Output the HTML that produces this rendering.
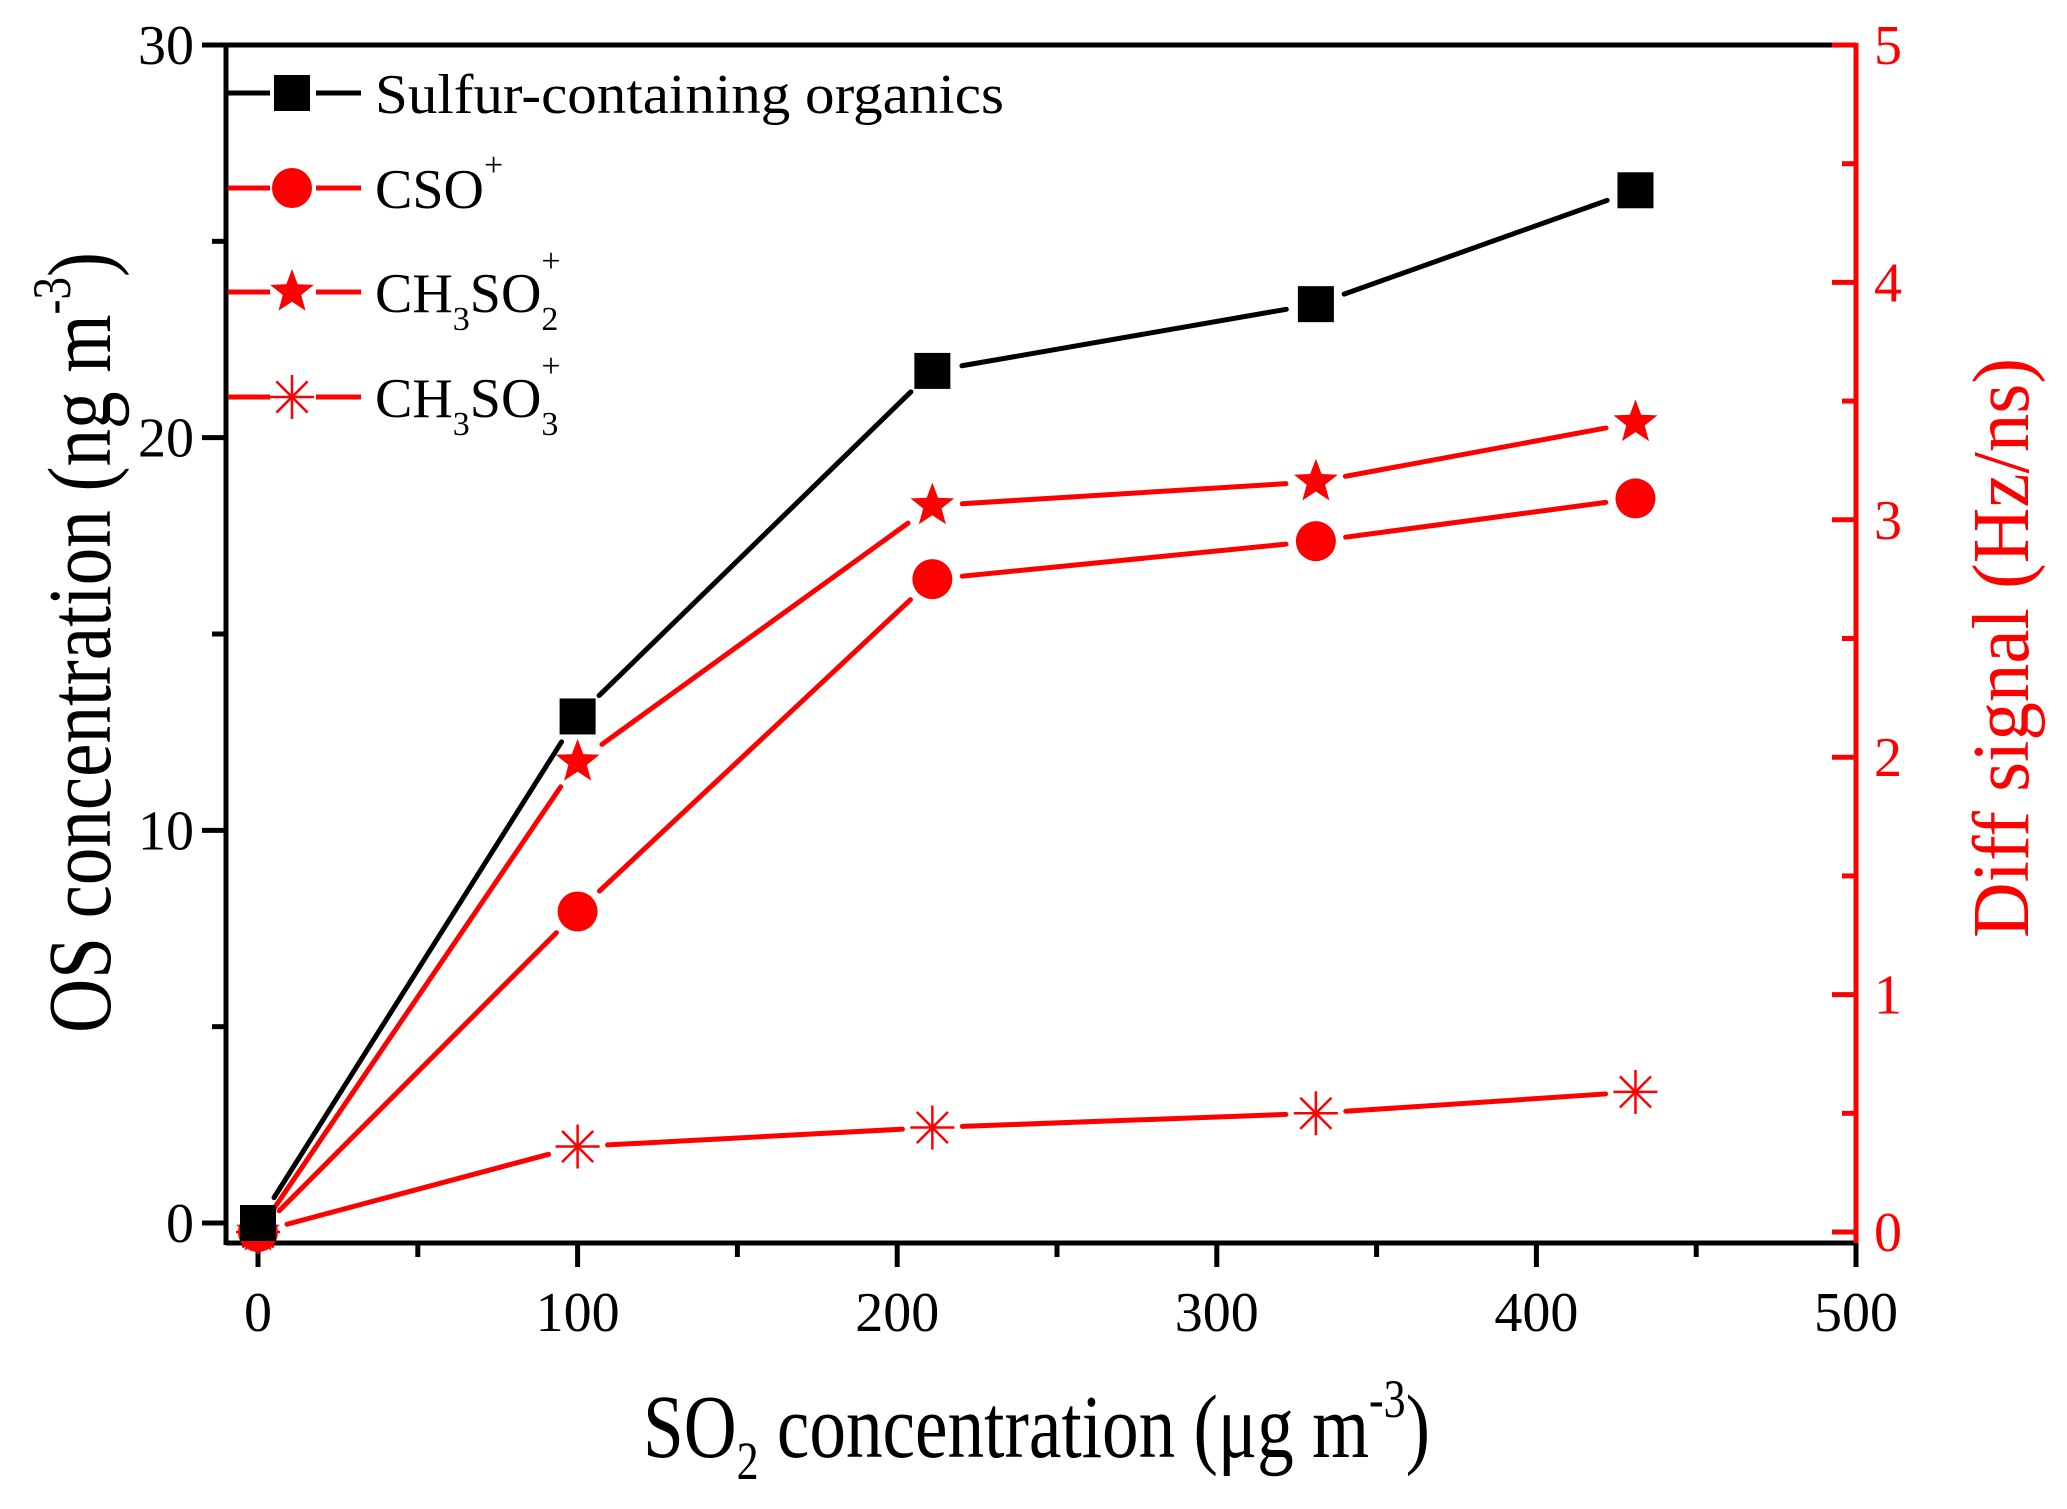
<!DOCTYPE html>
<html><head><meta charset="utf-8"><style>
html,body{margin:0;padding:0;background:#fff;}
svg{display:block;font-family:"Liberation Serif",serif;}
</style></head><body>
<svg id="chart" width="2067" height="1509" viewBox="0 0 2067 1509" xmlns="http://www.w3.org/2000/svg">
<g id="axes"></g>
<g id="series"></g>
<g id="legend">
  <text x="375" y="113" font-size="56" textLength="629" lengthAdjust="spacingAndGlyphs">Sulfur-containing organics</text>
  <text x="375" y="208" font-size="56">CSO<tspan font-size="34" dy="-32">+</tspan></text>
  <text x="375" y="312" font-size="56">CH<tspan font-size="34" dy="18">3</tspan><tspan dy="-18">SO</tspan><tspan font-size="34" dy="18">2</tspan><tspan font-size="34" dx="-17" dy="-58">+</tspan></text>
  <text x="375" y="417" font-size="56">CH<tspan font-size="34" dy="18">3</tspan><tspan dy="-18">SO</tspan><tspan font-size="34" dy="18">3</tspan><tspan font-size="34" dx="-17" dy="-58">+</tspan></text>
</g>
<text x="643" y="1457" font-size="90" textLength="787" lengthAdjust="spacingAndGlyphs">SO<tspan font-size="54" dy="22">2</tspan><tspan dy="-22"> concentration (μg m</tspan><tspan font-size="54" dy="-40">-3</tspan><tspan dy="40">)</tspan></text>
<text transform="translate(110,1033) rotate(-90)" font-size="90" textLength="781" lengthAdjust="spacingAndGlyphs">OS concentration (ng m<tspan font-size="54" dy="-40">-3</tspan><tspan dy="40">)</tspan></text>
<text transform="translate(2028,938) rotate(-90)" font-size="80" fill="#ff0000" textLength="580" lengthAdjust="spacingAndGlyphs">Diff signal (Hz/ns)</text>
</svg>
<script>
const xValues = [0, 100, 211, 331, 431];
const sulfurValues = [0, 12.9, 21.7, 23.4, 26.3];
const csoValues = [0, 1.35, 2.75, 2.91, 3.09];
const ch3so2Values = [0, 1.98, 3.06, 3.16, 3.41];
const ch3so3Values = [0, 0.36, 0.44, 0.50, 0.59];
const xTicks = [0, 100, 200, 300, 400, 500];
const yLeftTicks = [0, 10, 20, 30];
const yRightTicks = [0, 1, 2, 3, 4, 5];

const NS = 'http://www.w3.org/2000/svg';
const X0 = 258, X500 = 1856;
const xs = v => X0 + (X500 - X0) * v / 500;
const yl = v => 1223 - (1223 - 45) * v / 30;
const yr = v => 1232 - (1232 - 45) * v / 5;
function mk(tag, attrs, parent) {
  const e = document.createElementNS(NS, tag);
  for (const k in attrs) e.setAttribute(k, attrs[k]);
  parent.appendChild(e);
  return e;
}
const axes = document.getElementById('axes');
const L = 226, R = 1856, T = 45, B = 1243;
let e;
e = mk('line', {x1: L, y1: B, x2: R, y2: B, stroke: '#000', 'stroke-width': 5}, axes);
 
e = mk('line', {x1: L, y1: T, x2: R, y2: T, stroke: '#000', 'stroke-width': 5}, axes);
 
e = mk('line', {x1: L, y1: T - 2, x2: L, y2: B + 2, stroke: '#000', 'stroke-width': 5}, axes);
 
e = mk('line', {x1: R, y1: T - 2, x2: R, y2: B, stroke: '#ff0000', 'stroke-width': 5}, axes);
 

xTicks.forEach((v, i) => {
  const x = xs(v);
  let t = mk('line', {x1: x, y1: B, x2: x, y2: B + 24, stroke: '#000', 'stroke-width': 5}, axes);
   
  let lb = mk('text', {x: x, y: B + 88, 'font-size': 56, 'text-anchor': 'middle'}, axes);
  lb.textContent = v;
   
  if (i < xTicks.length - 1) {
    const xm = xs(v + 50);
    let m = mk('line', {x1: xm, y1: B, x2: xm, y2: B + 14, stroke: '#000', 'stroke-width': 5}, axes);
     
  }
});
yLeftTicks.forEach((v, i) => {
  const y = yl(v);
  let t = mk('line', {x1: L - 24, y1: y, x2: L, y2: y, stroke: '#000', 'stroke-width': 5}, axes);
   
  let lb = mk('text', {x: L - 32, y: y + 19, 'font-size': 56, 'text-anchor': 'end'}, axes);
  lb.textContent = v;
   
  if (i < yLeftTicks.length - 1) {
    const ym = yl(v + 5);
    let m = mk('line', {x1: L - 14, y1: ym, x2: L, y2: ym, stroke: '#000', 'stroke-width': 5}, axes);
     
  }
});
yRightTicks.forEach((v, i) => {
  const y = yr(v);
  let t = mk('line', {x1: R - 24, y1: y, x2: R, y2: y, stroke: '#ff0000', 'stroke-width': 5}, axes);
   
  let lb = mk('text', {x: R + 18, y: y + 19, 'font-size': 56, fill: '#ff0000'}, axes);
  lb.textContent = v;
   
  if (i < yRightTicks.length - 1) {
    const ym = yr(v + 0.5);
    let m = mk('line', {x1: R - 14, y1: ym, x2: R, y2: ym, stroke: '#ff0000', 'stroke-width': 5}, axes);
     
  }
});

function starPts(cx, cy, r) {
  const p = [];
  for (let k = 0; k < 10; k++) {
    const a = -Math.PI / 2 + k * Math.PI / 5;
    const rr = k % 2 ? r * 0.42 : r;
    p.push((cx + rr * Math.cos(a)).toFixed(1) + ',' + (cy + rr * Math.sin(a)).toFixed(1));
  }
  return p.join(' ');
}
function marker(g, type, cx, cy, color) {
  let m;
  if (type === 'square') m = mk('rect', {x: cx - 18, y: cy - 18, width: 36, height: 36, fill: color}, g);
  else if (type === 'circle') m = mk('circle', {cx: cx, cy: cy, r: 20, fill: color}, g);
  else if (type === 'star') m = mk('polygon', {points: starPts(cx, cy, 23), fill: color}, g);
  else {
    m = mk('g', {stroke: color, 'stroke-width': 2.5}, g);
    for (let k = 0; k < 4; k++) {
      const a = k * Math.PI / 4 + Math.PI / 2;
      mk('line', {x1: cx - 22 * Math.cos(a), y1: cy - 22 * Math.sin(a), x2: cx + 22 * Math.cos(a), y2: cy + 22 * Math.sin(a)}, m);
    }
  }
  return m;
}
function drawSeries(name, vals, yf, type, color) {
  const g = mk('g', {}, document.getElementById('series'));
  
  
  const pts = xValues.map((x, i) => [xs(x), yf(vals[i])]);
  for (let i = 0; i < pts.length - 1; i++) {
    const [x1, y1] = pts[i], [x2, y2] = pts[i + 1];
    const d = Math.hypot(x2 - x1, y2 - y1), gap = 30;
    if (d <= 2 * gap) continue;
    const ux = (x2 - x1) / d, uy = (y2 - y1) / d;
    const s = mk('line', {x1: x1 + ux * gap, y1: y1 + uy * gap, x2: x2 - ux * gap, y2: y2 - uy * gap, stroke: color, 'stroke-width': 5, 'stroke-linecap': 'round'}, g);
    
    
  }
  pts.forEach(p => {
    const m = marker(g, type, p[0], p[1], color);
    
    
  });
}
drawSeries('ch3so3', ch3so3Values, yr, 'asterisk', '#ff0000');
drawSeries('cso', csoValues, yr, 'circle', '#ff0000');
drawSeries('ch3so2', ch3so2Values, yr, 'star', '#ff0000');
drawSeries('sulfur-organics', sulfurValues, yl, 'square', '#000000');

const lg = document.getElementById('legend');
const legendRows = [[93, 'square', '#000'], [188, 'circle', '#ff0000'], [292, 'star', '#ff0000'], [397, 'asterisk', '#ff0000']];
legendRows.forEach(r => {
  const y = r[0];
  let a = mk('line', {x1: 228, y1: y, x2: 270, y2: y, stroke: r[2], 'stroke-width': 5}, lg);
   
  let b = mk('line', {x1: 316, y1: y, x2: 361, y2: y, stroke: r[2], 'stroke-width': 5}, lg);
   
  const m = marker(lg, r[1], 292, y, r[2]);
  
  
});
</script>
</body></html>
